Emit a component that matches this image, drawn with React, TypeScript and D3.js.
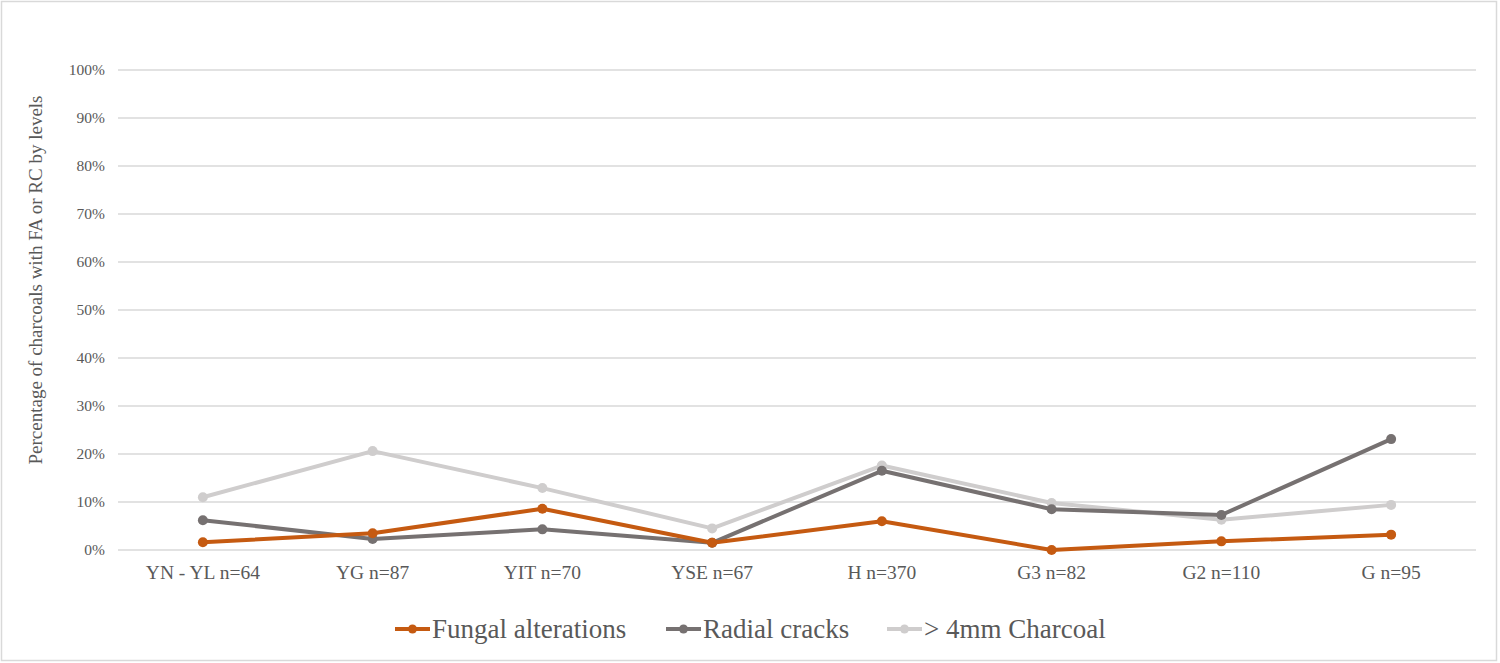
import React from "react";
import * as d3 from "d3";

const categories = ["YN - YL n=64", "YG n=87", "YIT n=70", "YSE n=67", "H n=370", "G3 n=82", "G2 n=110", "G n=95"];
const fungal = [1.6, 3.5, 8.6, 1.5, 6.0, 0.0, 1.8, 3.2];
const radial = [6.2, 2.3, 4.3, 1.5, 16.5, 8.5, 7.3, 23.1];
const charcoal = [11.0, 20.6, 12.9, 4.5, 17.6, 9.8, 6.3, 9.4];
const yTicks = [0, 10, 20, 30, 40, 50, 60, 70, 80, 90, 100];
const seriesNames = ["Fungal alterations", "Radial cracks", "> 4mm Charcoal"];
const seriesColors = ["#C55A11", "#767171", "#CFCDCD"];

const W = 1500, H = 663;
const FONT = "'Liberation Serif', 'Times New Roman', serif";

export default function App() {
  const x = d3.scaleBand<string>().domain(categories).range([118, 1476]);
  const y = d3.scaleLinear().domain([0, 100]).range([550, 70]);
  const cx = (i: number) => (x(categories[i]) as number) + x.bandwidth() / 2;
  const line = d3.line<number>().x((_, i) => cx(i)).y((d) => y(d));
  const series = [fungal, radial, charcoal];
  const order = [2, 1, 0];
  const legendX = [395, 666, 887];
  return (
    <svg width={W} height={H} style={{ position: "absolute", left: 0, top: 0 }} fontFamily={FONT}>
      <rect x={0} y={0} width={W} height={H} fill="#fff" />
      <rect x={1.5} y={1.5} width={1495} height={659} fill="none" stroke="#D9D9D9" strokeWidth={1.5} />
      {yTicks.map((t) => (
        <g key={t}>
          <line x1={118} x2={1476} y1={y(t)} y2={y(t)} stroke="#D9D9D9" strokeWidth={1.5} />
          <text x={105} y={y(t)} dy="0.35em" textAnchor="end" fontSize={15.5} fill="#595959">{t}%</text>
        </g>
      ))}
      {categories.map((c, i) => (
        <text key={c} x={cx(i)} y={579} textAnchor="middle" fontSize={19.5} fill="#595959">{c}</text>
      ))}
      <text transform={`translate(42,280) rotate(-90)`} textAnchor="middle" fontSize={19} fill="#595959">Percentage of charcoals with FA or RC by levels</text>
      {order.map((si) => (
        <g key={si}>
          <path d={line(series[si]) as string} fill="none" stroke={seriesColors[si]} strokeWidth={4} strokeLinejoin="round" strokeLinecap="round" />
          {series[si].map((v, i) => (
            <circle key={i} cx={cx(i)} cy={y(v)} r={5} fill={seriesColors[si]} />
          ))}
        </g>
      ))}
      {seriesNames.map((n, i) => (
        <g key={n}>
          <line x1={legendX[i]} x2={legendX[i] + 35} y1={629} y2={629} stroke={seriesColors[i]} strokeWidth={4} />
          <circle cx={legendX[i] + 17.5} cy={629} r={4.5} fill={seriesColors[i]} />
          <text x={legendX[i] + 37} y={638} fontSize={27} fill="#595959">{n}</text>
        </g>
      ))}
    </svg>
  );
}
